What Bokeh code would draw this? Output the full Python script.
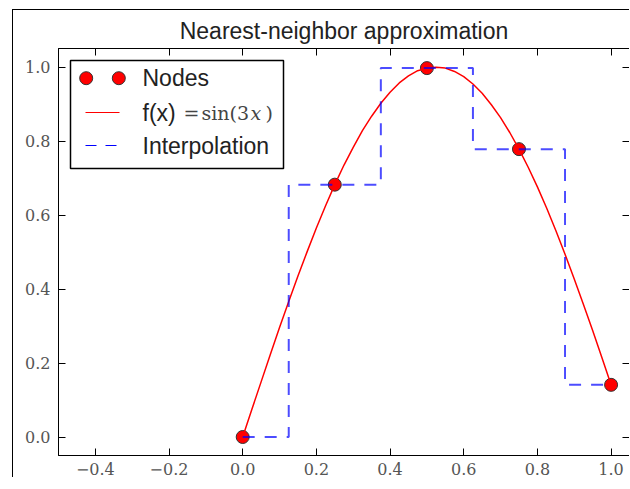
from bokeh.plotting import figure
from bokeh.models import (FixedTicker, CustomJSTickFormatter, LinearAxis, Range1d,
                          BoxAnnotation, Arrow, Label)
from bokeh.embed import file_html
from bokeh.resources import INLINE

# ---------------- data ----------------
node_x = [0.0, 0.25, 0.5, 0.75, 1.0]
node_y = [0.0, 0.682, 0.997, 0.778, 0.141]

curve_x = [0.0, 0.025, 0.05, 0.075, 0.10, 0.125, 0.15, 0.175, 0.20, 0.225, 0.25,
           0.275, 0.30, 0.325, 0.35, 0.375, 0.40, 0.425, 0.45, 0.475, 0.50,
           0.525, 0.55, 0.575, 0.60, 0.625, 0.65, 0.675, 0.70, 0.725, 0.75,
           0.775, 0.80, 0.825, 0.85, 0.875, 0.90, 0.925, 0.95, 0.975, 1.0]
curve_y = [0.0, 0.075, 0.149, 0.223, 0.296, 0.366, 0.435, 0.501, 0.565, 0.625, 0.682,
           0.735, 0.783, 0.828, 0.867, 0.902, 0.932, 0.957, 0.976, 0.990, 0.997,
           0.9995, 0.997, 0.988, 0.974, 0.954, 0.929, 0.898, 0.863, 0.823, 0.778,
           0.729, 0.676, 0.619, 0.558, 0.494, 0.427, 0.358, 0.288, 0.215, 0.141]

interp_x = [0.0, 0.125, 0.125, 0.375, 0.375, 0.625, 0.625, 0.875, 0.875, 1.0]
interp_y = [0.0, 0.0, 0.682, 0.682, 0.997, 0.997, 0.778, 0.778, 0.141, 0.141]

x_ticks = [-0.4, -0.2, 0.0, 0.2, 0.4, 0.6, 0.8, 1.0]
y_ticks = [0.0, 0.2, 0.4, 0.6, 0.8, 1.0]

title_text = "Nearest-neighbor approximation"
legend_labels = ["Nodes", "f(x)", "Interpolation"]
math_parts = ["=", "sin(3", "x", ")"]

SANS = "Liberation Sans"
SERIF = "DejaVu Serif"

# ---------------- figure ----------------
p = figure(frame_width=571, frame_height=407,
           x_range=Range1d(-0.5, 1.05), y_range=Range1d(-0.05, 1.05),
           output_backend="svg", toolbar_location=None,
           min_border_left=45, min_border_top=38, min_border_right=0,
           min_border_bottom=10)
p.styles = {"margin-left": "12px", "margin-top": "9px",
            "border-left": "1px solid black", "border-top": "1px solid black"}
p.grid.visible = False
p.outline_line_color = "black"
p.outline_line_width = 1
p.background_fill_color = "white"
p.border_fill_color = "white"

p.title.text = title_text
p.title.text_font = SANS
p.title.text_font_size = "23px"
p.title.text_font_style = "normal"
p.title.text_color = "#222222"
p.title.align = "center"
p.title.standoff = 9

fmt = CustomJSTickFormatter(code="return (tick < 0 ? '\u2212' : '') + Math.abs(tick).toFixed(1);")
empty = CustomJSTickFormatter(code="return '';")

bottom_axis = p.xaxis[0]
left_axis = p.yaxis[0]
bottom_axis.ticker = FixedTicker(ticks=x_ticks)
bottom_axis.formatter = fmt
bottom_axis.major_label_standoff = 7
left_axis.ticker = FixedTicker(ticks=y_ticks)
left_axis.formatter = fmt
left_axis.major_label_standoff = 8

top_axis = LinearAxis(ticker=FixedTicker(ticks=x_ticks), formatter=empty)
right_axis = LinearAxis(ticker=FixedTicker(ticks=y_ticks), formatter=empty)
p.add_layout(top_axis, "above")
p.add_layout(right_axis, "right")

for ax in [bottom_axis, left_axis, top_axis, right_axis]:
    ax.axis_line_color = "black"
    ax.axis_line_width = 1
    ax.major_tick_line_color = "black"
    ax.major_tick_line_width = 1
    ax.major_tick_in = 7
    ax.major_tick_out = 0
    ax.minor_tick_line_color = None
    ax.major_label_text_font = SERIF
    ax.major_label_text_font_size = "16px"
    ax.major_label_text_color = "#555555"
for ax in [top_axis, right_axis]:
    ax.major_label_text_font_size = "0px"
    ax.major_label_standoff = 0

# ---------------- marks ----------------
p.scatter(node_x, node_y, size=13, marker="circle", fill_color="red",
          line_color="#333333", line_width=1)
p.line(curve_x, curve_y, line_color="red", line_width=1.5)
p.line(interp_x, interp_y, line_color="blue", line_alpha=0.7, line_width=2,
       line_dash="12 10")

# ---------------- legend (screen units, relative to plot frame) ----------------
p.add_layout(BoxAnnotation(left=12, right=225, bottom=287, top=395,
                           left_units="screen", right_units="screen",
                           top_units="screen", bottom_units="screen",
                           fill_color="white", fill_alpha=1.0,
                           line_color="black", line_width=1.5, line_alpha=1.0))
for cx in (27.7, 60.3):
    p.add_layout(BoxAnnotation(left=cx - 6.5, right=cx + 6.5, bottom=370.8, top=383.8,
                               left_units="screen", right_units="screen",
                               top_units="screen", bottom_units="screen",
                               border_radius=7, fill_color="red", fill_alpha=1.0,
                               line_color="#333333", line_width=1, line_alpha=1.0))
p.add_layout(Arrow(start=None, end=None, x_start=27, y_start=343, x_end=61, y_end=343,
                   start_units="screen", end_units="screen",
                   line_color="red", line_width=1))
p.add_layout(Arrow(start=None, end=None, x_start=27, y_start=310, x_end=61, y_end=310,
                   start_units="screen", end_units="screen",
                   line_color="blue", line_width=1, line_dash="11 9"))

for txt, yy in zip(legend_labels, (377.3, 343, 310)):
    p.add_layout(Label(x=84, y=yy, x_units="screen", y_units="screen", text=txt,
                       text_font=SANS, text_font_size="23px", text_baseline="middle",
                       text_align="left", text_color="#222222"))

for txt, xx, style in zip(math_parts, (125, 143, 192, 207),
                          ("normal", "normal", "italic", "normal")):
    p.add_layout(Label(x=xx, y=343, x_units="screen", y_units="screen", text=txt,
                       text_font=SERIF, text_font_size="19px", text_font_style=style,
                       text_baseline="middle", text_align="left", text_color="#444444"))

open("out.html", "w").write(file_html(p, INLINE))
